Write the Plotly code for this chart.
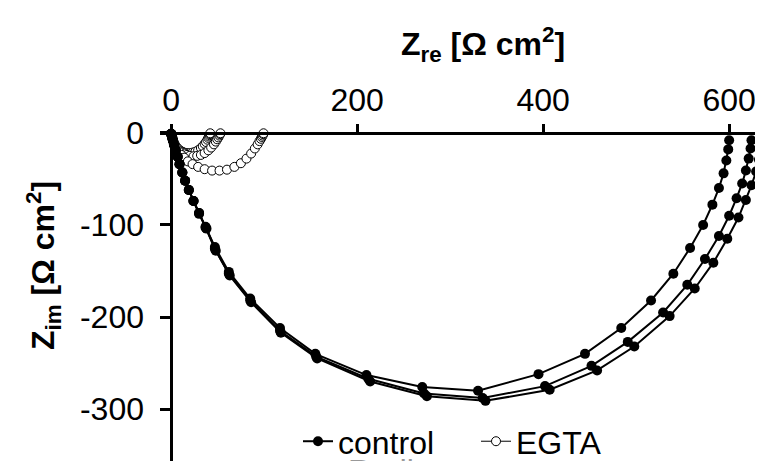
import plotly.graph_objects as go

# ---- data ----
control1_x = [0, 1, 2, 3, 5, 7, 9, 12, 15, 19, 24, 30, 37, 47, 62, 85, 117, 155, 210, 270, 330, 395, 445, 484, 516, 540, 558, 572, 582, 589, 594, 597, 599, 600]
control1_y = [-1, -4, -8, -13, -19, -26, -34, -43, -52, -62, -74, -87, -102, -124, -151, -180, -212, -240, -263, -276, -280, -262, -240, -212, -182, -153, -125, -100, -78, -60, -44, -30, -18, -8]
control2_x = [0, 1, 2, 3, 5, 7, 9, 12, 15, 19, 24, 30, 37, 47, 62, 85, 117, 156, 212, 272, 335, 402, 452, 491, 529, 555, 574, 589, 600, 608, 614, 618, 621, 623, 624]
control2_y = [-1, -4, -8, -13, -19, -26, -34, -43, -52, -62, -74, -87, -103, -126, -153, -182, -215, -243, -267, -283, -288, -275, -253, -227, -195, -165, -137, -112, -90, -71, -55, -41, -28, -17, -8]
control3_x = [0, 1, 2, 3, 5, 7, 9, 12, 15, 19, 24, 30, 38, 48, 63, 86, 118, 157, 214, 275, 338, 407, 458, 498, 536, 563, 583, 598, 610, 618, 624, 629, 632, 634, 635]
control3_y = [-1, -4, -8, -13, -19, -26, -34, -43, -52, -62, -74, -88, -104, -128, -155, -184, -217, -245, -270, -286, -291, -279, -258, -232, -199, -169, -141, -115, -92, -73, -57, -42, -29, -18, -9]

egta1_x = [0, 0.5, 1, 1.5, 2, 3, 4, 5, 6, 8, 10, 12, 14, 17, 20, 23, 26, 29, 32, 34, 36, 37.5, 39, 40, 40.8, 41.4, 41.8, 42]
egta1_y = [-1, -3, -5, -7, -9, -11, -13, -15, -16, -18, -19.5, -20.5, -21.5, -22, -22, -21.5, -20.5, -19, -16.5, -14.5, -12, -10, -7.5, -5.5, -4, -2.5, -1.5, -0.5]
egta2_x = [0, 0.5, 1, 1.5, 2, 3, 4, 5, 7, 9, 11, 14, 17, 20, 24, 28, 32, 36, 40, 43, 46, 48, 49.5, 50.8, 51.8, 52.5, 53]
egta2_y = [-1, -3, -5, -7, -9, -11, -13, -15, -17, -19, -21, -22.5, -24, -25, -25.5, -25, -24, -22, -19, -16, -12.5, -9.5, -7, -5, -3, -1.5, -0.5]
egta3_x = [0, 0.5, 1, 2, 3, 4, 6, 8, 11, 14, 18, 23, 29, 36, 44, 52, 60, 68, 75, 81, 86, 90, 93, 95, 96.5, 97.5, 98.3, 98.9, 99.3]
egta3_y = [-1, -3, -5, -8, -11, -14, -17, -20, -24, -27, -31, -34, -37, -39.5, -41, -41, -40, -37, -33, -28, -22.5, -17, -12.5, -9, -6.5, -4.5, -3, -1.5, -0.5]

x_tickvals = [0, 200, 400, 600]
x_ticktext = ["0", "200", "400", "600"]
y_tickvals = [0, -100, -200, -300]
y_ticktext = ["0", "-100", "-200", "-300"]

series_names = ["control", "EGTA"]

FONT = "Liberation Sans, Arial, sans-serif"
W, H = 763, 461
ML, MT = 152, 118
PW, PH = W - ML, H - MT

def px(x):
    return (x - ML) / PW

def py(y):
    return (H - y) / PH

fig = go.Figure()

egta = [(egta1_x, egta1_y), (egta2_x, egta2_y), (egta3_x, egta3_y)]
for i, (xs, ys) in enumerate(egta):
    fig.add_trace(go.Scatter(
        x=xs, y=ys, mode="lines+markers",
        line=dict(color="black", width=1),
        marker=dict(symbol="circle", size=9, color="white", line=dict(color="black", width=1)),
        name=series_names[1], legendgroup="egta", showlegend=(i == 0), legend="legend2"))

control = [(control1_x, control1_y), (control2_x, control2_y), (control3_x, control3_y)]
for i, (xs, ys) in enumerate(control):
    fig.add_trace(go.Scatter(
        x=xs, y=ys, mode="lines+markers",
        line=dict(color="black", width=2),
        marker=dict(symbol="circle", size=10, color="black"),
        name=series_names[0], legendgroup="control", showlegend=(i == 0), legend="legend"))

xr = [-12, 645]
yr = [-357.4, 7.4]

fig.update_layout(
    width=W, height=H,
    margin=dict(l=ML, r=0, t=MT, b=0),
    paper_bgcolor="white", plot_bgcolor="white",
    font=dict(family=FONT, size=32, color="black"),
    xaxis=dict(range=xr, side="top", anchor="free", position=(0 - yr[0]) / (yr[1] - yr[0]),
               showline=True, linecolor="black", linewidth=2.5,
               ticks="outside", ticklen=8, tickwidth=2.5, tickcolor="black",
               tickvals=x_tickvals, ticktext=x_ticktext,
               showgrid=False, zeroline=False, tickfont=dict(size=32)),
    yaxis=dict(range=yr, anchor="free", position=(0 - xr[0]) / (xr[1] - xr[0]),
               showline=True, linecolor="black", linewidth=2.5,
               ticks="outside", ticklen=10, tickwidth=2.5, tickcolor="black",
               ticklabelstandoff=10,
               tickvals=y_tickvals, ticktext=y_ticktext,
               showgrid=False, zeroline=False, tickfont=dict(size=32)),
    legend=dict(x=px(290), y=py(440), xanchor="left", yanchor="middle",
                orientation="h", bgcolor="rgba(0,0,0,0)", borderwidth=0,
                font=dict(size=32)),
    legend2=dict(x=px(468), y=py(440), xanchor="left", yanchor="middle",
                 orientation="h", bgcolor="rgba(0,0,0,0)", borderwidth=0,
                 font=dict(size=32)),
    annotations=[
        dict(text="<b>Z<sub>re</sub> [Ω cm<sup>2</sup>]</b>", xref="paper", yref="paper",
             x=px(475), y=py(35), xanchor="center", yanchor="middle", showarrow=False,
             font=dict(size=32, family=FONT)),
        dict(text="<b>Z<sub>im</sub> [Ω cm<sup>2</sup>]</b>", xref="paper", yref="paper",
             x=px(35), y=py(261), xanchor="center", yanchor="middle", showarrow=False,
             textangle=-90, font=dict(size=32, family=FONT)),
        dict(text="Radius", xref="paper", yref="paper",
             x=px(338), y=py(450), xanchor="left", yanchor="top", showarrow=False,
             font=dict(size=32, family=FONT, color="#999999")),
    ],
)

fig.write_html("out.html")
